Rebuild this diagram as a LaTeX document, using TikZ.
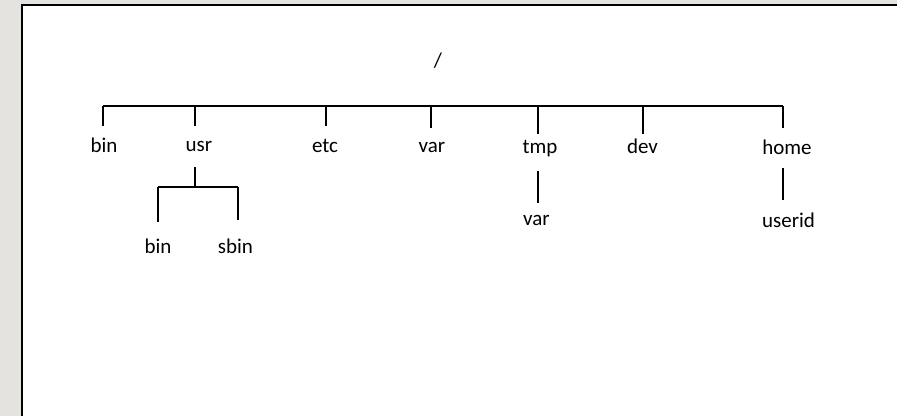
\documentclass[tikz,border=0pt]{standalone}
\usepackage{fontspec}
\setmainfont{Carlito}
\usepackage{tikz}
\usetikzlibrary{positioning}
\definecolor{slidegray}{RGB}{229,227,223}

\begin{document}
\begin{tikzpicture}[x=1pt,y=-1pt,
    dir/.style={font=\fontsize{21}{25}\selectfont,inner sep=0pt,text height=14pt,text depth=4pt,anchor=base},
    link/.style={line width=1.4pt}]

        \useasboundingbox (0,0) rectangle (897,416);
        \fill[slidegray] (0,0) rectangle (897,416);
        \fill[white] (21.85,5.1) rectangle (897,416);
        \draw[line width=2.3pt] (21.85,416) -- (21.85,5.1) -- (897,5.1);

        \node[dir] (root) at (438,67) {/};

        \node[dir] (bin) at (104,152) {bin};
        \node[dir] (usr) at (199,151) {usr};
        \node[dir] (etc) at (325,152) {etc};
        \node[dir] (var) at (432,152) {var};
        \node[dir] (tmp) at (540,153) {tmp};
        \node[dir] (dev) at (642.5,153) {dev};
        \node[dir] (home) at (787,154) {home};

        \node[dir] (ubin) at (158,253) {bin};
        \node[dir] (sbin) at (235.5,253) {sbin};
        \node[dir] (tvar) at (536.5,225) {var};
        \node[dir] (userid) at (788.5,227) {userid};

        % top level
        \coordinate (jbin) at (103,106);
        \coordinate (jusr) at (195,106);
        \coordinate (jetc) at (326,106);
        \coordinate (jvar) at (431,106);
        \coordinate (jtmp) at (538,106);
        \coordinate (jdev) at (643,106);
        \coordinate (jhome) at (783,106);

        \draw[link] (jbin) -- (jhome);
        \draw[link] (jbin) -- ([yshift=12pt]jbin |- bin.north);
        \draw[link] (jusr) -- ([yshift=11pt]jusr |- usr.north);
        \draw[link] (jetc) -- ([yshift=12pt]jetc |- etc.north);
        \draw[link] (jvar) -- ([yshift=10pt]jvar |- var.north);
        \draw[link] (jtmp) -- ([yshift=5pt]jtmp |- tmp.north);
        \draw[link] (jdev) -- ([yshift=5pt]jdev |- dev.north);
        \draw[link] (jhome) -- ([yshift=12pt]jhome |- home.north);

        % usr
        \coordinate (kusr) at (195,187);
        \coordinate (kubin) at (158,187);
        \coordinate (ksbin) at (238,187);
        \draw[link] ([yshift=-12pt]jusr |- usr.south) -- (kusr);
        \draw[link] (kubin) -- (ksbin);
        \draw[link] (kubin) -- ([yshift=17pt]kubin |- ubin.north);
        \draw[link] (ksbin) -- ([yshift=19pt]ksbin |- sbin.north);

        % tmp and home
        \draw[link] ([yshift=-14pt]jtmp |- tmp.south) -- ([yshift=8pt]jtmp |- tvar.north);
        \draw[link] ([yshift=-10pt]jhome |- home.south) -- ([yshift=13pt]jhome |- userid.north);

    \end{tikzpicture}
\end{document}
